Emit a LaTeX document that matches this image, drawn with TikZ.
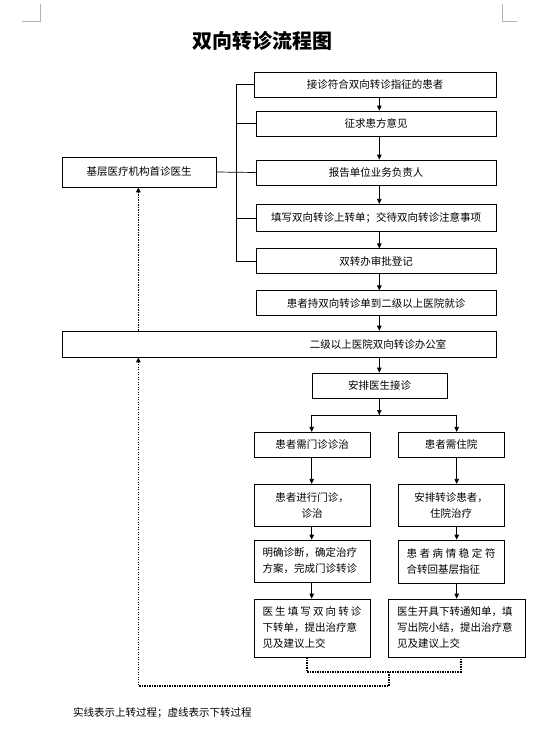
\documentclass[tikz,border=0pt]{standalone}
\usepackage{fontspec}
\newfontfamily\cjk{Noto Sans CJK SC}
\usetikzlibrary{arrows.meta}

\begin{document}
\begin{tikzpicture}[x=1pt, y=-1pt,
    every node/.style={font=\cjk\fontsize{10.5}{16}\selectfont, inner sep=0pt},
    box/.style={draw, line width=0.7pt, fill=white, minimum height=25pt},
    arr/.style={-{Triangle[length=5pt,width=4.5pt]}, line width=0.7pt},
    dots/.style={line width=1.6pt, dash pattern=on 1.4pt off 1.1pt},
    darr/.style={dots, -{Triangle[length=5pt,width=4.5pt]}}]
    \useasboundingbox (0,0) rectangle (551,744);
    % page corner marks
    \draw[gray!60, line width=0.6pt] (22,21.7) -- (40,21.7) -- (40,4);
    \draw[gray!60, line width=0.6pt] (502.3,4) -- (502.3,21.7) -- (517,21.7);

    \node[font=\cjk\bfseries\fontsize{20}{24}\selectfont] (title) at (262.5,41) {双向转诊流程图};

    % upward referral
    \node[box, minimum width=242pt] (b1) at (375,84.5) {接诊符合双向转诊指征的患者};
    \node[box, minimum width=240pt] (b2) at (376,123.5) {征求患方意见};
    \node[box, minimum width=240pt] (b3) at (376,172.5) {报告单位业务负责人};
    \node[box, minimum width=240pt, minimum height=27.5pt] (b4) at (376,218) {填写双向转诊上转单；交待双向转诊注意事项};
    \node[box, minimum width=240pt, minimum height=24.5pt] (b5) at (376,261) {双转办审批登记};
    \node[box, minimum width=240pt, minimum height=24.5pt] (b6) at (376,303) {患者持双向转诊单到二级以上医院就诊};
    \node[box, minimum width=434pt, minimum height=26pt] (b7) at (279,344) {};
    \node (b7t) at (378,344) {二级以上医院双向转诊办公室};
    \node[box, minimum width=154pt, minimum height=30pt] (jc) at (139,172) {基层医疗机构首诊医生};
    \node[box, minimum width=135pt] (b8) at (379.5,385.5) {安排医生接诊};

    % downward referral
    \node[box, minimum width=116pt] (b9) at (312,444.8) {患者需门诊诊治};
    \node[box, minimum width=106pt] (b10) at (451,444.8) {患者需住院};
    \node[box, minimum width=116pt, minimum height=42.5pt, align=center] (b11) at (312,505.5) {患者进行门诊，\\诊治};
    \node[box, minimum width=106pt, minimum height=42.5pt, align=center] (b12) at (451,505.5) {安排转诊患者，\\住院治疗};
    \node[box, text width=99pt, inner xsep=8.5pt, minimum height=42pt, align=left] (b13) at (312,561) {明确诊断，确定治疗\\方案，完成门诊转诊};
    \node[box, text width=89pt, inner xsep=8.5pt, minimum height=43pt, align=left] (b14) at (451,561.5) {\makebox[89pt]{患\hfill 者\hfill 病\hfill 情\hfill 稳\hfill 定\hfill 符}\\合转回基层指征};
    \node[box, text width=99pt, inner xsep=8.5pt, minimum height=58pt, align=left] (b15) at (312,628) {\makebox[99pt]{医\hfill 生\hfill 填\hfill 写\hfill 双\hfill 向\hfill 转\hfill 诊}\\下转单，提出治疗意\\见及建议上交};
    \node[box, text width=119pt, inner xsep=9pt, minimum height=58pt, align=left] (b16) at (456.7,628) {医生开具下转通知单，填\\写出院小结，提出治疗意\\见及建议上交};

    \node[anchor=west] (note) at (73,712.7) {实线表示上转过程；虚线表示下转过程};

    % solid connectors
    \coordinate (bx) at (236,0);
    \coordinate (mx) at (379.3,0);
    \draw[line width=0.7pt] (b1.west) -- (b1.west -| bx) -- (b5.west -| bx) -- (b5.west);
    \draw[line width=0.7pt] (b2.west -| bx) -- (b2.west);
    \draw[line width=0.7pt] (jc.east) -- (b3.west);
    \draw[line width=0.7pt] (b4.west -| bx) -- (b4.west);
    \draw[arr] (b1.south -| mx) -- (b2.north -| mx);
    \draw[arr] (b2.south -| mx) -- (b3.north -| mx);
    \draw[arr] (b3.south -| mx) -- (b4.north -| mx);
    \draw[arr] (b4.south -| mx) -- (b5.north -| mx);
    \draw[arr] (b5.south -| mx) -- (b6.north -| mx);
    \draw[arr] (b6.south -| mx) -- (b7.north -| mx);
    \draw[arr] (b7.south -| mx) -- (b8.north -| mx);
    \coordinate (sl) at (311.7,415);
    \coordinate (sr) at (456.7,415);
    \draw[arr] (b8.south -| mx) -- (mx |- sl);
    \draw[line width=0.7pt] (sl) -- (sr);
    \draw[arr] (sl) -- (sl |- b9.north);
    \draw[arr] (sr) -- (sr |- b10.north);
    \draw[arr] (b9.south -| sl) -- (b11.north -| sl);
    \draw[arr] (b11.south -| sl) -- (b13.north -| sl);
    \draw[arr] (b13.south -| sl) -- (b15.north -| sl);
    \draw[arr] (b10.south -| sr) -- (b12.north -| sr);
    \draw[arr] (b12.south -| sr) -- (b14.north -| sr);
    \draw[arr] (b14.south -| sr) -- (b16.north -| sr);

    % dotted connectors
    \coordinate (dx) at (138.3,0);
    \coordinate (dl) at (306.7,671.7);
    \coordinate (dr) at (460.7,671.7);
    \coordinate (dm) at (389,671.7);
    \coordinate (db) at (389,685.7);
    \draw[darr] (b7.north -| dx) -- (jc.south -| dx);
    \draw[dots] (b15.south -| dl) -- (dl) -- (dr) -- (b16.south -| dr);
    \draw[darr] (dm) -- (db) -- (db -| dx) -- (b7.south -| dx);
\end{tikzpicture}
\end{document}
